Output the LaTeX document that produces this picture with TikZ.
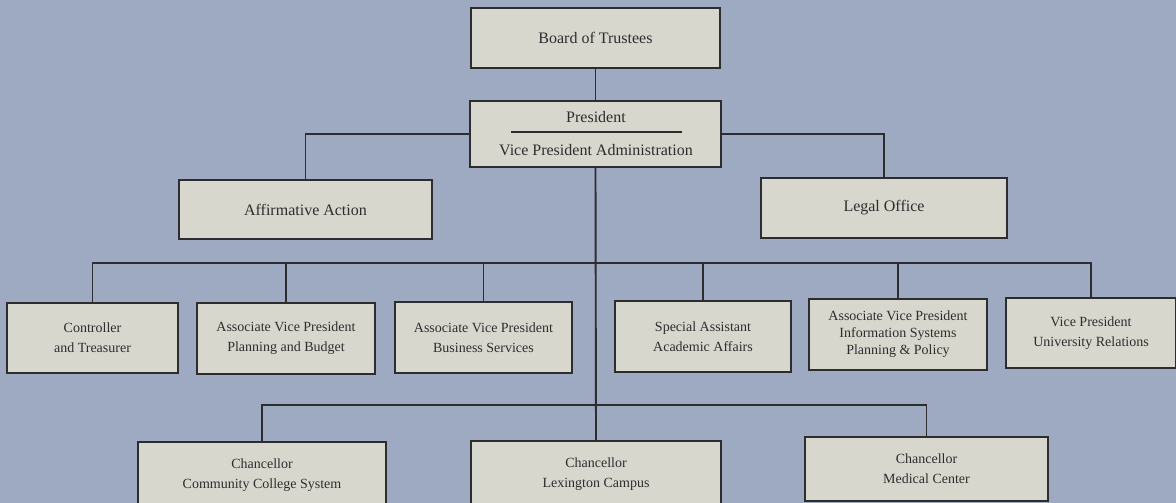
\documentclass[tikz,border=0pt]{standalone}
\usepackage{fontspec}
\setmainfont{Liberation Serif}
\definecolor{bgc}{RGB}{158,170,194}
\definecolor{boxc}{RGB}{216,215,205}
\definecolor{inkc}{RGB}{45,45,48}
\begin{document}
\begin{tikzpicture}[x=1pt,y=-1pt,
  box/.style={draw=inkc,line width=1.9pt,fill=boxc,inner sep=0pt,align=center,text=inkc},
  bigbox/.style={box,font=\fontsize{16}{19}\selectfont},
  smallbox/.style={box,font=\fontsize{14}{20}\selectfont},
  link/.style={draw=inkc,line width=1.9pt}]
\useasboundingbox (0,0) rectangle (1176,503);
\clip (0,0) rectangle (1176,503);
\fill[bgc] (0,0) rectangle (1176,503);
% top
\node[bigbox,minimum width=249pt,minimum height=60pt] (board) at (595.5,38) {Board of Trustees};
\node[bigbox,minimum width=251pt,minimum height=66pt] (pres) at (595.5,134) {};
\node[font=\fontsize{16}{19}\selectfont,text=inkc] (presT) at (596,117) {President};
\node[font=\fontsize{16}{19}\selectfont,text=inkc] (vpa) at (596,150) {Vice President Administration};
\coordinate (ruleL) at (511,132);
\coordinate (ruleR) at (682,132);
\node[bigbox,minimum width=253pt,minimum height=59pt] (aff) at (305.5,209.5) {Affirmative Action};
\node[bigbox,minimum width=246pt,minimum height=60pt] (legal) at (884,208) {Legal Office};
% middle row
\node[smallbox,minimum width=171pt,minimum height=70pt] (ctrl) at (92.5,338) {Controller\\and Treasurer};
\node[smallbox,minimum width=178pt,minimum height=71pt] (plan) at (286,338.5) {Associate Vice President\\Planning and Budget};
\node[smallbox,minimum width=177pt,minimum height=71pt] (bus) at (483.5,337.5) {Associate Vice President\\Business Services};
\node[smallbox,minimum width=176pt,minimum height=71pt] (spec) at (703,336.5) {Special Assistant\\Academic Affairs};
\node[smallbox,minimum width=178pt,minimum height=71pt,font=\fontsize{14}{17}\selectfont] (info) at (898,334.5) {Associate Vice President\\Information Systems\\Planning \& Policy};
\node[smallbox,minimum width=170pt,minimum height=70pt] (univ) at (1091,333) {Vice President\\University Relations};
% bottom row
\node[smallbox,minimum width=248pt,minimum height=66pt] (ccs) at (262,475) {Chancellor\\Community College System};
\node[smallbox,minimum width=250pt,minimum height=66pt] (lex) at (596,474) {Chancellor\\Lexington Campus};
\node[smallbox,minimum width=243pt,minimum height=64pt] (med) at (926.5,469) {Chancellor\\Medical Center};
% buses
\coordinate (busA) at (595.5,263);
\coordinate (busB) at (595.5,405);
% connectors
\draw[link] (ruleL) -- (ruleR);
\draw[link] (board) -- (pres);
\draw[link] (pres.west) -| (aff.north);
\draw[link] (pres.east) -| (legal.north);
\draw[link] (pres.south) -- (lex.north);
\draw[link] (ctrl.north) |- (busA) -| (univ.north);
\draw[link] (plan.north) -- (plan.north |- busA);
\draw[link] (bus.north) -- (bus.north |- busA);
\draw[link] (spec.north) -- (spec.north |- busA);
\draw[link] (info.north) -- (info.north |- busA);
\draw[link] (ccs.north) |- (busB) -| (med.north);
\end{tikzpicture}
\end{document}
